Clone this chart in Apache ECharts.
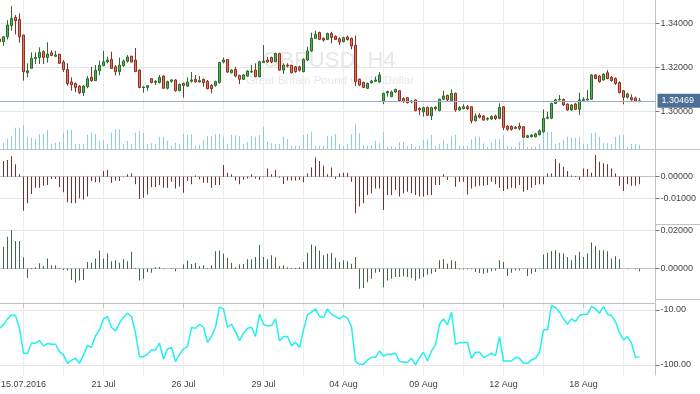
<!DOCTYPE html>
<html><head><meta charset="utf-8">
<script src="https://cdn.jsdelivr.net/npm/echarts@6/dist/echarts.min.js"></script>
<style>html,body{margin:0;padding:0;background:#fff}#c{width:700px;height:394px}</style>
</head><body><div id="c"></div>
<script>
// OHLC as [open, close, low, high]
const candles = [
[1.3329,1.3317,1.3312,1.3332],[1.3317,1.3339,1.3298,1.3342],[1.3339,1.3393,1.3327,1.3415],[1.3390,1.3423,1.3367,1.3479],
[1.3428,1.3412,1.3350,1.3438],[1.3418,1.3339,1.3312,1.3446],[1.3347,1.3180,1.3139,1.3348],[1.3175,1.3184,1.3154,1.3218],
[1.3195,1.3241,1.3195,1.3268],[1.3239,1.3245,1.3215,1.3268],[1.3245,1.3268,1.3215,1.3291],[1.3271,1.3245,1.3215,1.3278],
[1.3245,1.3260,1.3221,1.3314],[1.3266,1.3254,1.3251,1.3278],[1.3250,1.3256,1.3248,1.3275],[1.3260,1.3218,1.3215,1.3260],
[1.3224,1.3190,1.3178,1.3233],[1.3190,1.3126,1.3116,1.3218],[1.3133,1.3120,1.3093,1.3154],[1.3126,1.3108,1.3087,1.3130],
[1.3114,1.3084,1.3078,1.3119],[1.3084,1.3114,1.3069,1.3119],[1.3111,1.3148,1.3104,1.3160],[1.3154,1.3139,1.3134,1.3202],
[1.3139,1.3187,1.3139,1.3210],[1.3184,1.3209,1.3163,1.3230],[1.3207,1.3225,1.3206,1.3275],[1.3224,1.3233,1.3218,1.3248],
[1.3236,1.3195,1.3192,1.3271],[1.3202,1.3180,1.3163,1.3210],[1.3180,1.3210,1.3163,1.3244],[1.3207,1.3228,1.3202,1.3236],
[1.3228,1.3247,1.3221,1.3256],[1.3251,1.3224,1.3221,1.3251],[1.3233,1.3180,1.3180,1.3288],[1.3187,1.3108,1.3104,1.3190],
[1.3107,1.3110,1.3084,1.3114],[1.3108,1.3116,1.3093,1.3119],[1.3148,1.3131,1.3126,1.3148],[1.3131,1.3136,1.3119,1.3142],
[1.3131,1.3154,1.3126,1.3165],[1.3160,1.3104,1.3104,1.3163],[1.3104,1.3134,1.3099,1.3139],[1.3136,1.3142,1.3130,1.3146],
[1.3142,1.3093,1.3089,1.3145],[1.3093,1.3122,1.3092,1.3126],[1.3126,1.3117,1.3061,1.3130],[1.3114,1.3133,1.3111,1.3154],
[1.3136,1.3142,1.3130,1.3178],[1.3145,1.3133,1.3130,1.3165],[1.3133,1.3139,1.3130,1.3160],[1.3145,1.3130,1.3111,1.3148],
[1.3136,1.3102,1.3099,1.3142],[1.3117,1.3102,1.3081,1.3123],[1.3117,1.3134,1.3111,1.3139],[1.3130,1.3222,1.3126,1.3225],
[1.3224,1.3233,1.3218,1.3245],[1.3236,1.3178,1.3175,1.3236],[1.3175,1.3187,1.3172,1.3190],[1.3190,1.3160,1.3154,1.3202],
[1.3163,1.3145,1.3123,1.3166],[1.3145,1.3165,1.3142,1.3169],[1.3160,1.3183,1.3157,1.3187],[1.3178,1.3181,1.3175,1.3210],
[1.3187,1.3157,1.3154,1.3218],[1.3157,1.3225,1.3154,1.3230],[1.3222,1.3228,1.3221,1.3301],[1.3233,1.3224,1.3221,1.3248],
[1.3245,1.3224,1.3218,1.3248],[1.3225,1.3263,1.3225,1.3266],[1.3263,1.3187,1.3184,1.3266],[1.3187,1.3210,1.3169,1.3218],
[1.3210,1.3206,1.3199,1.3218],[1.3209,1.3175,1.3172,1.3210],[1.3202,1.3180,1.3175,1.3206],[1.3202,1.3187,1.3180,1.3207],
[1.3180,1.3236,1.3177,1.3241],[1.3233,1.3274,1.3228,1.3294],[1.3274,1.3332,1.3271,1.3358],[1.3332,1.3350,1.3329,1.3367],
[1.3359,1.3327,1.3324,1.3362],[1.3332,1.3324,1.3317,1.3336],[1.3327,1.3354,1.3324,1.3358],[1.3354,1.3336,1.3309,1.3362],
[1.3342,1.3327,1.3324,1.3345],[1.3330,1.3315,1.3301,1.3336],[1.3317,1.3335,1.3314,1.3339],[1.3338,1.3326,1.3322,1.3345],
[1.3332,1.3297,1.3282,1.3336],[1.3300,1.3134,1.3114,1.3345],[1.3145,1.3119,1.3114,1.3148],[1.3131,1.3108,1.3104,1.3134],
[1.3104,1.3126,1.3101,1.3130],[1.3130,1.3137,1.3126,1.3142],[1.3136,1.3142,1.3133,1.3157],[1.3133,1.3165,1.3130,1.3178],
[1.3045,1.3081,1.3032,1.3084],[1.3083,1.3089,1.3066,1.3093],[1.3066,1.3087,1.3063,1.3093],[1.3087,1.3099,1.3083,1.3102],
[1.3093,1.3048,1.3045,1.3096],[1.3057,1.3042,1.3038,1.3063],[1.3061,1.3038,1.3035,1.3064],[1.3042,1.3046,1.3035,1.3051],
[1.3051,1.3002,1.2999,1.3054],[1.3013,1.3005,1.2982,1.3017],[1.2996,1.3016,1.2975,1.3020],[1.3017,1.2981,1.2978,1.3020],
[1.2978,1.3016,1.2959,1.3020],[1.3017,1.3011,1.3002,1.3023],[1.3002,1.3054,1.2999,1.3057],[1.3054,1.3069,1.3051,1.3092],
[1.3072,1.3051,1.3043,1.3075],[1.3048,1.3081,1.3045,1.3099],[1.3081,1.3005,1.2997,1.3084],[1.3005,1.3016,1.3000,1.3023],
[1.3011,1.3020,1.3008,1.3031],[1.3020,1.3011,1.3005,1.3028],[1.3020,1.2956,1.2944,1.3023],[1.2956,1.2978,1.2952,1.2990],
[1.2982,1.2972,1.2967,1.2990],[1.2978,1.2959,1.2956,1.2982],[1.2963,1.2967,1.2956,1.2972],[1.2964,1.2975,1.2959,1.2981],
[1.2978,1.2966,1.2959,1.2984],[1.2967,1.3017,1.2963,1.3035],[1.3020,1.2926,1.2913,1.3023],[1.2932,1.2917,1.2910,1.2935],
[1.2930,1.2917,1.2910,1.2935],[1.2921,1.2926,1.2917,1.2932],[1.2932,1.2921,1.2913,1.2947],[1.2929,1.2880,1.2877,1.2932],
[1.2880,1.2888,1.2877,1.2892],[1.2883,1.2891,1.2880,1.2894],[1.2883,1.2896,1.2880,1.2901],[1.2892,1.2910,1.2889,1.2917],
[1.2905,1.2967,1.2901,1.3008],[1.2967,1.2972,1.2963,1.2997],[1.2967,1.3035,1.2963,1.3038],[1.3035,1.3051,1.3032,1.3057],
[1.3051,1.3054,1.3048,1.3073],[1.3054,1.3028,1.3023,1.3057],[1.3032,1.3005,1.3002,1.3035],[1.3005,1.3028,1.3000,1.3032],
[1.3032,1.3008,1.3005,1.3038],[1.3008,1.3051,1.2982,1.3084],[1.3048,1.3054,1.3043,1.3063],[1.3051,1.3055,1.3048,1.3096],
[1.3054,1.3165,1.3051,1.3169],[1.3165,1.3149,1.3145,1.3169],[1.3160,1.3134,1.3130,1.3165],[1.3142,1.3169,1.3139,1.3172],
[1.3175,1.3149,1.3145,1.3187],[1.3154,1.3139,1.3134,1.3160],[1.3149,1.3126,1.3119,1.3154],[1.3130,1.3084,1.3081,1.3136],
[1.3093,1.3063,1.3031,1.3096],[1.3063,1.3078,1.3057,1.3084],[1.3061,1.3051,1.3048,1.3077],[1.3060,1.3045,1.3042,1.3066],
[1.3043,1.30469,1.3042,1.3060]
];
const volumes = [
880,760,1240,1600,2560,2560,2880,1480,1360,1240,1800,1800,2280,600,760,840,1960,2280,2280,600,
600,600,1720,1960,1800,1000,1080,600,1960,2400,2400,600,1000,600,1960,2160,1960,600,680,600,
1480,1480,1000,360,760,600,1800,1720,1800,400,520,1080,1560,1560,1800,1800,1480,600,1680,1640,
1560,600,880,1560,1480,1680,2680,880,680,600,600,1480,1160,360,360,360,1680,1800,2080,360,
360,360,1560,1560,1800,600,360,600,1800,3000,1880,480,360,480,1000,680,2000,280,360,280,
840,840,360,600,280,360,1080,1160,1680,360,600,1080,600,1480,1720,360,360,360,1160,1480,
1480,680,280,760,1160,1240,1680,360,280,280,880,1240,280,280,280,600,2080,2080,2080,600,
760,1080,1480,1400,1320,1400,600,600,1880,1960,1480,680,680,600,1480,1680,1680,280,600,600,520
];
const bearsPower = [
0.0060,0.0072,0.0077,0.0095,0.0057,0.0011,-0.0157,-0.0123,-0.0080,-0.0051,-0.0051,-0.0042,-0.0038,-0.0011,-0.0011,-0.0048,
-0.0072,-0.0118,-0.0123,-0.0123,-0.0100,-0.0105,-0.0092,-0.0020,-0.0026,-0.0026,0.0026,0.0031,-0.0028,-0.0018,-0.0020,-0.0003,
0.0011,0.0015,-0.0035,-0.0103,-0.0097,-0.0082,-0.0049,-0.0048,-0.0038,-0.0051,-0.0051,-0.0023,-0.0054,-0.0045,-0.0074,-0.0020,
-0.0035,0.0005,-0.0012,-0.0028,-0.0028,-0.0051,-0.0038,-0.0038,0.0054,0.0018,0.0011,-0.0018,-0.0035,-0.0014,-0.0008,0.0011,
-0.0008,-0.0014,-0.0003,0.0038,0.0011,0.0031,-0.0005,-0.0034,-0.0018,-0.0018,-0.0018,-0.0015,-0.0026,0.0015,0.0043,0.0089,
0.0072,0.0051,0.0011,0.0042,-0.0011,0.0015,0.0018,0.0018,-0.0023,-0.0169,-0.0138,-0.0123,-0.0085,-0.0077,-0.0054,-0.0054,
-0.0154,-0.0085,-0.0085,-0.0062,-0.0092,-0.0077,-0.0069,-0.0077,-0.0085,-0.0092,-0.0092,-0.0085,-0.0085,-0.0038,-0.0038,0.0011,
-0.0015,0.0000,-0.0046,-0.0023,-0.0023,-0.0082,-0.0054,-0.0046,-0.0042,-0.0042,-0.0038,-0.0023,-0.0035,-0.0051,-0.0066,-0.0057,
-0.0051,-0.0054,-0.0038,-0.0069,-0.0062,-0.0051,-0.0038,-0.0035,-0.0035,0.0015,0.0015,0.0082,0.0062,0.0046,0.0026,0.0005,
0.0003,-0.0015,0.0038,0.0035,0.0018,0.0100,0.0069,0.0062,0.0058,0.0038,0.0015,-0.0042,-0.0066,-0.0035,-0.0042,-0.0042,-0.0035
];
const bullsPower = [
0.0090,0.0113,0.0165,0.0200,0.0143,0.0143,0.0059,-0.0049,0.0003,0.0007,0.0028,0.0014,0.0052,0.0017,0.0017,0.0003,
-0.0007,-0.0010,-0.0059,-0.0073,-0.0061,-0.0059,0.0035,0.0030,0.0052,0.0094,0.0052,0.0078,0.0038,0.0043,0.0031,0.0049,
0.0038,0.0087,0.0003,-0.0061,-0.0052,-0.0017,-0.0021,0.0007,0.0009,-0.0003,0.0000,0.0003,-0.0014,0.0000,0.0021,0.0042,
0.0024,0.0031,0.0014,0.0017,0.0003,0.0017,0.0090,0.0094,0.0077,0.0056,0.0031,0.0007,0.0021,0.0024,0.0049,0.0049,
0.0061,0.0122,0.0061,0.0049,0.0070,0.0059,0.0014,0.0017,0.0007,0.0003,0.0003,0.0007,0.0035,0.0083,0.0125,0.0118,
0.0094,0.0070,0.0077,0.0082,0.0056,0.0035,0.0043,0.0038,0.0026,0.0061,-0.0104,-0.0101,-0.0070,-0.0052,-0.0021,-0.0017,
-0.0096,-0.0061,-0.0052,-0.0043,-0.0043,-0.0040,-0.0043,-0.0049,-0.0061,-0.0052,-0.0043,-0.0031,-0.0026,-0.0017,0.0043,0.0049,
0.0026,0.0043,0.0038,-0.0005,-0.0005,-0.0005,-0.0003,-0.0017,-0.0023,-0.0026,-0.0021,-0.0014,-0.0009,0.0043,0.0035,-0.0038,
-0.0021,-0.0009,-0.0009,-0.0003,-0.0038,-0.0026,-0.0017,-0.0003,0.0073,0.0083,0.0092,0.0096,0.0083,0.0078,0.0061,0.0043,
0.0070,0.0087,0.0061,0.0078,0.0136,0.0118,0.0096,0.0096,0.0090,0.0052,0.0064,0.0049,0.0000,-0.0003,0.0000,-0.0003,-0.0014
];
const williamsR = [
-40.0,-34.5,-24.7,-18.2,-19.3,-40.0,-80.9,-80.9,-64.5,-64.5,-60.2,-68.9,-65.1,-66.2,-66.2,-78.2,
-83.6,-97.3,-92.4,-89.1,-97.3,-83.6,-68.4,-71.1,-52.5,-42.7,-24.7,-20.9,-38.9,-44.4,-31.8,-22.0,
-15.5,-20.9,-48.2,-86.4,-86.4,-82.5,-75.5,-75.5,-64.5,-90.2,-73.8,-71.6,-94.5,-82.5,-73.8,-70.0,
-38.9,-40.0,-33.5,-38.4,-62.9,-53.6,-38.4,-5.6,-8.4,-38.4,-33.5,-45.5,-60.2,-48.2,-40.0,-38.4,
-53.6,-17.1,-33.5,-36.2,-35.6,-24.7,-60.7,-53.6,-53.6,-68.9,-62.9,-71.6,-42.7,-18.2,-13.8,-8.4,
-20.9,-22.5,-8.4,-17.1,-20.9,-24.7,-19.3,-23.6,-37.3,-94.5,-98.9,-98.9,-91.8,-87.5,-87.5,-77.1,
-85.3,-82.5,-82.5,-80.9,-94.5,-95.6,-95.6,-89.1,-100.0,-88.0,-79.3,-93.5,-77.1,-67.3,-33.5,-24.7,
-34.5,-13.8,-66.2,-63.5,-63.5,-63.5,-89.1,-79.3,-79.3,-88.0,-84.7,-80.9,-84.7,-53.6,-93.5,-93.5,
-93.5,-87.5,-89.1,-97.3,-97.3,-91.8,-89.1,-79.3,-42.7,-42.7,-2.9,-6.2,-13.8,-24.7,-33.5,-24.7,
-29.1,-19.3,-17.1,-17.1,-4.5,-8.4,-15.5,-4.5,-17.1,-19.3,-29.1,-48.2,-59.1,-53.6,-64.5,-88.0,-86.4
];
const dateLabels = ['15.07.2016','21 Jul','26 Jul','29 Jul','04 Aug','09 Aug','12 Aug','18 Aug'];
const firstLabelBar = 6, labelStep = 20, gridStep = 10, slotCount = 165;
const priceTicks = [1.30, 1.32, 1.34];
const bearsTicks = [-0.01, 0];
const bullsTicks = [0, 0.02];
const wprTicks = [-100, -10];
const lastPrice = 1.30469;
const symbolTitle = 'GBPUSD, H4';
const symbolDesc = 'Great Britain Pound vs US Dollar';

const FONT = "'Liberation Sans', Arial, sans-serif";
const cats = Array.from({length: slotCount}, (_, i) => String(i));
const isLabelBar = (i) => i >= firstLabelBar && (i - firstLabelBar) % labelStep === 0;
const isGridBar = (i) => i >= firstLabelBar && (i - firstLabelBar) % gridStep === 0;

function makeX(gi, showLabels) {
  return {
    type: 'category', gridIndex: gi, data: cats, boundaryGap: false,
    axisLine: {show: true, lineStyle: {color: '#c2c2c2', width: 1}},
    axisTick: {show: showLabels, length: 4, interval: (i) => isLabelBar(i), lineStyle: {color: '#c2c2c2'}},
    axisLabel: {show: showLabels, interval: (i) => isLabelBar(i),
      formatter: (v) => { const i = Number(v); return isLabelBar(i) ? (dateLabels[(i - firstLabelBar) / labelStep] || '') : ''; },
      color: '#444', fontSize: 9, fontFamily: FONT, margin: 5},
    splitLine: {show: true, interval: (i) => isGridBar(i), lineStyle: {color: '#ececec', width: 1}}
  };
}
function makeY(gi, min, max, ticks, digits) {
  return {
    type: 'value', gridIndex: gi, position: 'right', min: min, max: max, scale: true,
    axisLine: {show: true, lineStyle: {color: '#c2c2c2', width: 1}},
    axisTick: {show: true, length: 4, customValues: ticks, lineStyle: {color: '#777'}},
    axisLabel: {show: true, customValues: ticks, formatter: (v) => Number(v).toFixed(digits),
      color: '#444', fontSize: 9, fontFamily: FONT, margin: 5},
    splitLine: {show: true, lineStyle: {color: '#e6e6e6', width: 1}}
  };
}

// plot spans x = -0.5 .. 655.5, i.e. exactly 4 px per bar slot
const L = -0.5, W = 656;
const gridBase = {left: L, width: W, outerBoundsMode: 'none', containLabel: false};
const sepStyle = {stroke: '#c2c2c2', lineWidth: 1};
const option = {
  animation: false,
  backgroundColor: '#ffffff',
  grid: [
    Object.assign({}, gridBase, {top: 0, height: 149}),
    Object.assign({}, gridBase, {top: 149, height: 75.3}),
    Object.assign({}, gridBase, {top: 224.3, height: 75.2}),
    Object.assign({}, gridBase, {top: 299.5, height: 75.5})
  ],
  xAxis: [makeX(0, false), makeX(1, false), makeX(2, false), makeX(3, true)],
  yAxis: [
    makeY(0, 1.2827, 1.3507, priceTicks, 5),
    {type: 'value', gridIndex: 0, min: 0, max: 17880, show: false, splitLine: {show: false}},
    makeY(1, -0.0220, 0.0128, bearsTicks, 5),
    makeY(2, -0.0160, 0.0230, bullsTicks, 5),
    makeY(3, -116.4, 6.9, wprTicks, 2)
  ],
  graphic: [
    {type: 'text', x: 329, y: 61, z: 0, silent: true,
      style: {text: symbolTitle, fill: '#e8e8e8', fontSize: 22, fontFamily: FONT, align: 'center', verticalAlign: 'middle', textAlign: 'center', textVerticalAlign: 'middle'}},
    {type: 'text', x: 330, y: 81, z: 0, silent: true,
      style: {text: symbolDesc, fill: '#e8e8e8', fontSize: 11.5, fontFamily: FONT, align: 'center', verticalAlign: 'middle', textAlign: 'center', textVerticalAlign: 'middle'}},
    {type: 'line', z: 0, silent: true, shape: {x1: 655.5, y1: 149.5, x2: 700, y2: 149.5}, style: sepStyle},
    {type: 'line', z: 0, silent: true, shape: {x1: 655.5, y1: 224.5, x2: 700, y2: 224.5}, style: sepStyle},
    {type: 'line', z: 0, silent: true, shape: {x1: 655.5, y1: 299.5, x2: 700, y2: 299.5}, style: sepStyle}
  ],
  series: [
    {type: 'bar', name: 'Volume', xAxisIndex: 0, yAxisIndex: 1, data: volumes, barWidth: 1, z: 1, silent: true,
      itemStyle: {color: '#8ccbee'}},
    {type: 'candlestick', name: 'GBPUSD', xAxisIndex: 0, yAxisIndex: 0, data: candles, barWidth: 3, z: 3,
      itemStyle: {color: '#55b155', color0: '#e4775f', borderColor: '#2b6b2b', borderColor0: '#8a3122', borderWidth: 1},
      markLine: {
        silent: true, symbol: ['none', 'none'], animation: false, precision: 5,
        lineStyle: {color: '#98afcc', width: 1, type: 'solid'},
        label: {show: true, position: 'end', formatter: lastPrice.toFixed(5), color: '#ffffff', backgroundColor: '#4b6f97',
          padding: [3, 7, 2, 4], fontSize: 9, fontFamily: FONT, distance: 2},
        data: [{yAxis: lastPrice}]
      }},
    {type: 'bar', name: 'Bears Power', xAxisIndex: 1, yAxisIndex: 2, data: bearsPower, barWidth: 1,
      itemStyle: {color: '#7c2d2d'}},
    {type: 'bar', name: 'Bulls Power', xAxisIndex: 2, yAxisIndex: 3, data: bullsPower, barWidth: 1,
      itemStyle: {color: '#3e6a46'}},
    {type: 'line', name: "Williams' %R", xAxisIndex: 3, yAxisIndex: 4, data: williamsR, showSymbol: false, symbol: 'none',
      lineStyle: {color: '#22f0f0', width: 1.5}, itemStyle: {color: '#22f0f0'}}
  ]
};
const chart = echarts.init(document.getElementById('c'), null, {renderer: 'canvas'});
chart.setOption(option);
</script>
</body></html>
